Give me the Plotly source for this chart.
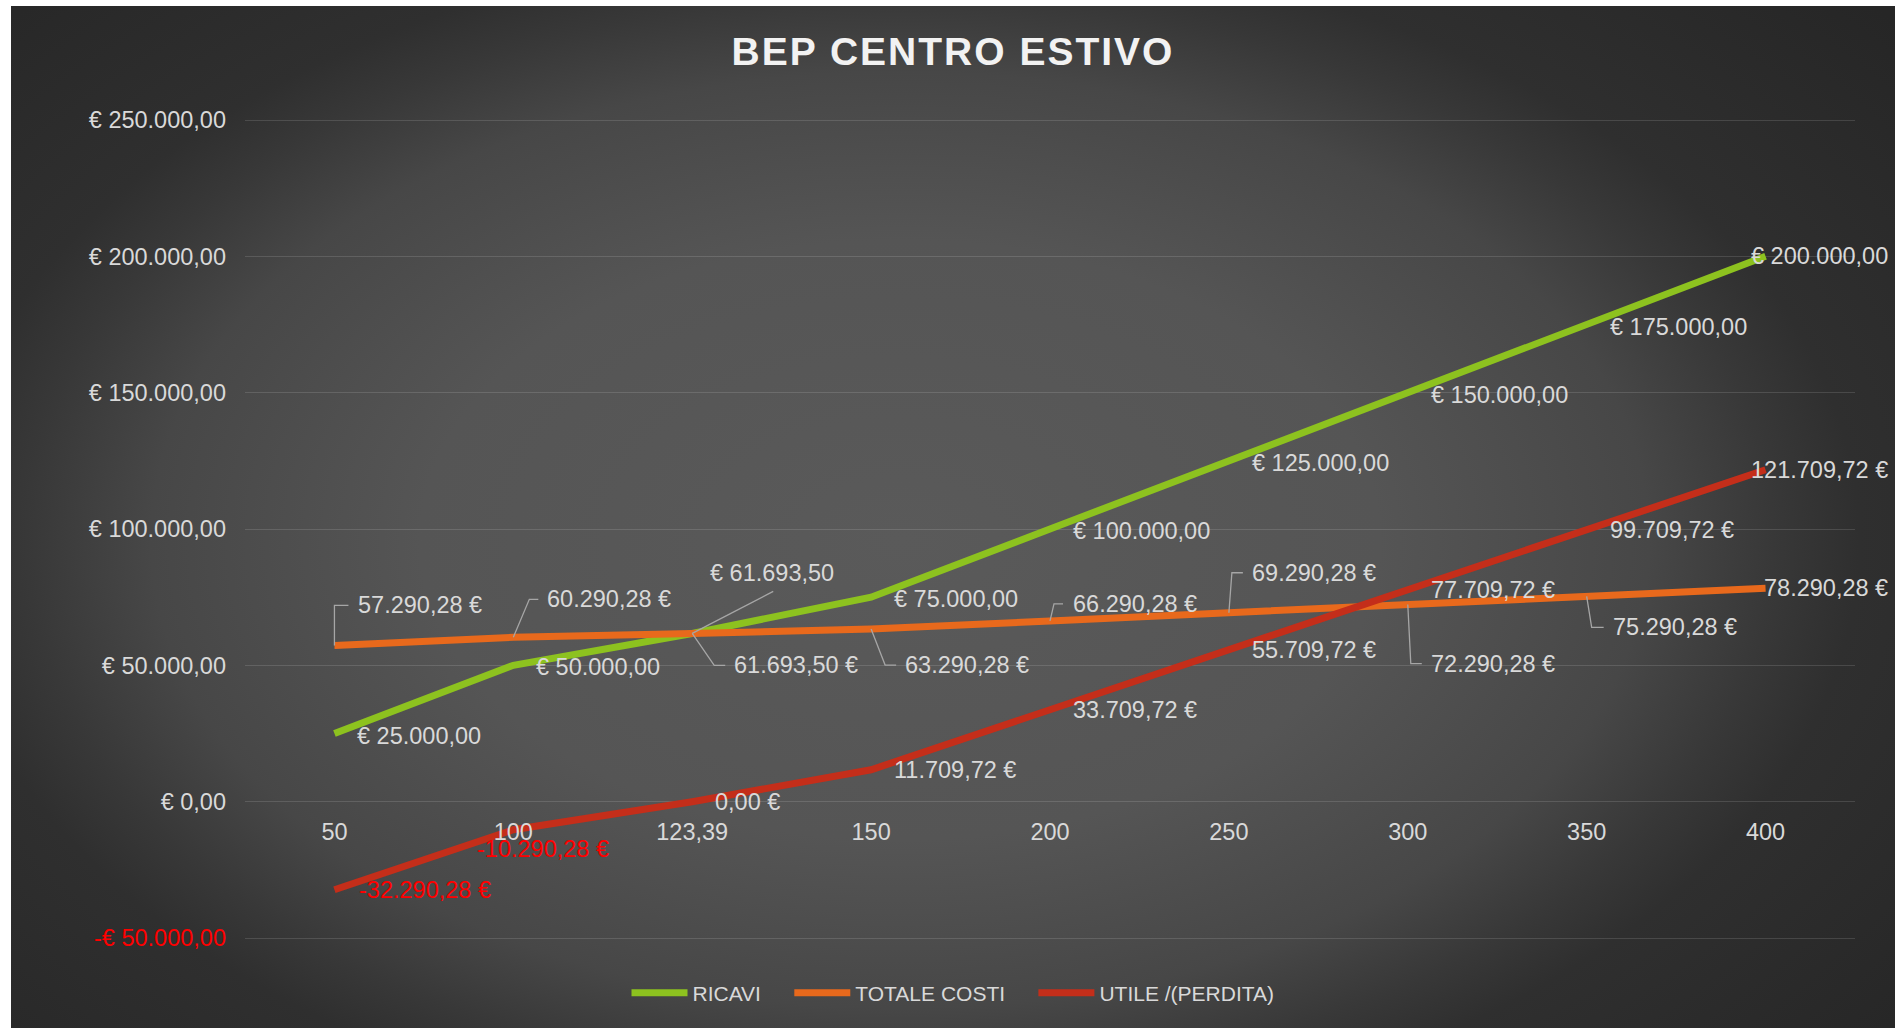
import base64
import plotly.graph_objects as go

# ---------------- data ----------------
categories = ["50", "100", "123,39", "150", "200", "250", "300", "350", "400"]
ricavi = [25000.00, 50000.00, 61693.50, 75000.00, 100000.00, 125000.00, 150000.00, 175000.00, 200000.00]
totale_costi = [57290.28, 60290.28, 61693.50, 63290.28, 66290.28, 69290.28, 72290.28, 75290.28, 78290.28]
utile = [-32290.28, -10290.28, 0.00, 11709.72, 33709.72, 55709.72, 77709.72, 99709.72, 121709.72]
y_tickvals = [-50000, 0, 50000, 100000, 150000, 200000, 250000]

title_text = "BEP CENTRO ESTIVO"
series_names = ["RICAVI", "TOTALE COSTI", "UTILE /(PERDITA)"]

# ---------------- style ----------------
FONT = "Liberation Sans, Arial, sans-serif"
LABEL_COLOR = "#d9d9d9"
NEG_COLOR = "#ff0000"
GREEN = "#8DC21F"
ORANGE = "#E8691C"
RED = "#C42E1A"
LEADER = "#a6a6a6"
FS = 23.5


def it_num(v):
    s = f"{abs(v):,.2f}"
    return s.replace(",", "X").replace(".", ",").replace("X", ".")


def eur_prefix(v):
    return ("-" if v < 0 else "") + "€ " + it_num(v)


def eur_suffix(v):
    return ("-" if v < 0 else "") + it_num(v) + " €"


# label placement: (dx px to text edge, dy px down to text centre, anchor), leader polyline
green_pos = [(23, 2, "left")] * 9
green_pos[2] = (18, -60, "left")
green_pos[8] = (122, 0, "right")
green_leaders = {2: [(81, -42)]}

orange_pos = [
    (24, -40, "left"), (34, -38, "left"), (42, 32, "left"), (34, 36, "left"),
    (23, -17, "left"), (23, -40, "left"), (23, 59, "left"), (26, 31, "left"),
    (122, 0, "right"),
]
orange_leaders = {
    0: [(0, -40), (14, -40)], 1: [(16, -38), (25, -38)], 2: [(22, 32), (33, 32)],
    3: [(14, 36), (25, 36)], 4: [(4, -17), (13, -17)], 5: [(3, -40), (14, -40)],
    6: [(3, 59), (14, 59)], 7: [(5, 31), (17, 31)],
}

red_pos = [(23, 0, "left")] * 9
red_pos[0] = (25, 0, "left")
red_pos[1] = (-36, 19, "left")
red_pos[8] = (122, 0, "right")

fig = go.Figure()
pad = "\u00a0" * 4
for k, (name, vals, col) in enumerate(zip(series_names, [ricavi, totale_costi, utile], [GREEN, ORANGE, RED])):
    fig.add_trace(go.Scatter(
        x=categories, y=vals, mode="lines",
        name=name + (pad if k < len(series_names) - 1 else ""),
        line=dict(color=col, width=7), hoverinfo="skip",
    ))

annotations = []
shapes = []


def add_labels(vals, pos, fmt, leaders):
    for i, v in enumerate(vals):
        dx, dy, anc = pos[i]
        color = NEG_COLOR if v < 0 else LABEL_COLOR
        annotations.append(dict(
            x=i, y=v, xref="x", yref="y", text=fmt(v), showarrow=False,
            xanchor=anc, yanchor="middle", xshift=dx, yshift=-dy,
            borderpad=0, borderwidth=0,
            font=dict(family=FONT, size=FS, color=color),
        ))
        if i in leaders:
            pts = [(0, 0)] + leaders[i]
            path = "M" + " L".join(f"{px},{-py}" for px, py in pts)
            shapes.append(dict(
                type="path", xref="x", yref="y", xsizemode="pixel", ysizemode="pixel",
                xanchor=i, yanchor=v, path=path,
                line=dict(color=LEADER, width=1.3), layer="above",
            ))


add_labels(ricavi, green_pos, eur_prefix, green_leaders)
add_labels(totale_costi, orange_pos, eur_suffix, orange_leaders)
add_labels(utile, red_pos, eur_suffix, {})

y_ticktext = [
    (f'<span style="color:{NEG_COLOR}">{eur_prefix(v)}</span>' if v < 0 else eur_prefix(v))
    for v in y_tickvals
]

# radial-gradient background (chart area of the original picture)
svg = (
    '<svg xmlns="http://www.w3.org/2000/svg" width="1884" height="1022" viewBox="0 0 1884 1022" '
    'preserveAspectRatio="none"><defs><radialGradient id="g" gradientUnits="userSpaceOnUse" '
    'cx="0" cy="0" r="1" gradientTransform="translate(889 534) scale(1296 810)">'
    '<stop offset="0" stop-color="#5a5a5a"/><stop offset="0.37" stop-color="#555555"/>'
    '<stop offset="0.578" stop-color="#474747"/><stop offset="0.674" stop-color="#383838"/>'
    '<stop offset="0.74" stop-color="#2f2f2f"/><stop offset="1" stop-color="#262626"/>'
    '</radialGradient></defs><rect width="1884" height="1022" fill="url(#g)"/></svg>'
)
bg_uri = "data:image/svg+xml;base64," + base64.b64encode(svg.encode()).decode()

W, H = 1895, 1028
Y_MIN, Y_MAX = -50000, 250000
E = 3  # extra pixels above/below so the edge gridlines are drawn
ML, MR, MT, MB = 245, 40, 120 - E, 90 - E
PW, PH = W - ML - MR, H - MT - MB
unit = (Y_MAX - Y_MIN) / (PH - 2 * E)
R0, R1 = Y_MIN - E * unit, Y_MAX + E * unit
chart_cx = ((11 + W) / 2 - ML) / PW

fig.update_layout(
    width=W, height=H,
    margin=dict(l=ML, r=MR, t=MT, b=MB, pad=0),
    paper_bgcolor="white", plot_bgcolor="rgba(0,0,0,0)",
    images=[dict(source=bg_uri, xref="paper", yref="paper",
                 x=(11 - ML) / PW, y=(H - MB - 6) / PH,
                 sizex=(W - 11) / PW, sizey=(H - 6) / PH,
                 sizing="stretch", xanchor="left", yanchor="top", layer="below")],
    title=dict(
        text=f'<b><span style="letter-spacing:2px">{title_text}</span></b>',
        x=chart_cx, xref="paper", xanchor="center",
        y=1 - 51 / H, yref="container", yanchor="middle",
        font=dict(family=FONT, size=39, color="#f2f2f2"),
    ),
    xaxis=dict(
        type="category", range=[-0.5, 8.5], showgrid=False, zeroline=False, showline=False,
        ticks="", anchor="free", position=(0 - R0) / (R1 - R0),
        tickfont=dict(family=FONT, size=FS, color=LABEL_COLOR), ticklabelstandoff=14,
        fixedrange=True,
    ),
    yaxis=dict(
        range=[R0, R1], tickvals=y_tickvals, ticktext=y_ticktext,
        showgrid=True, gridcolor="rgba(255,255,255,0.13)", gridwidth=1.3,
        zeroline=False, showline=False, ticks="",
        tickfont=dict(family=FONT, size=FS, color=LABEL_COLOR), ticklabelstandoff=18,
        fixedrange=True,
    ),
    legend=dict(
        orientation="h", x=chart_cx, xanchor="center", y=(H - MB - 993) / PH, yanchor="middle",
        font=dict(family=FONT, size=21, color=LABEL_COLOR), bgcolor="rgba(0,0,0,0)",
        itemwidth=56, itemclick=False, itemdoubleclick=False,
    ),
    annotations=annotations,
    shapes=shapes,
    showlegend=True,
)

fig.write_html("out.html", post_script="document.body.style.margin='0px';",
               config={"displayModeBar": False})
